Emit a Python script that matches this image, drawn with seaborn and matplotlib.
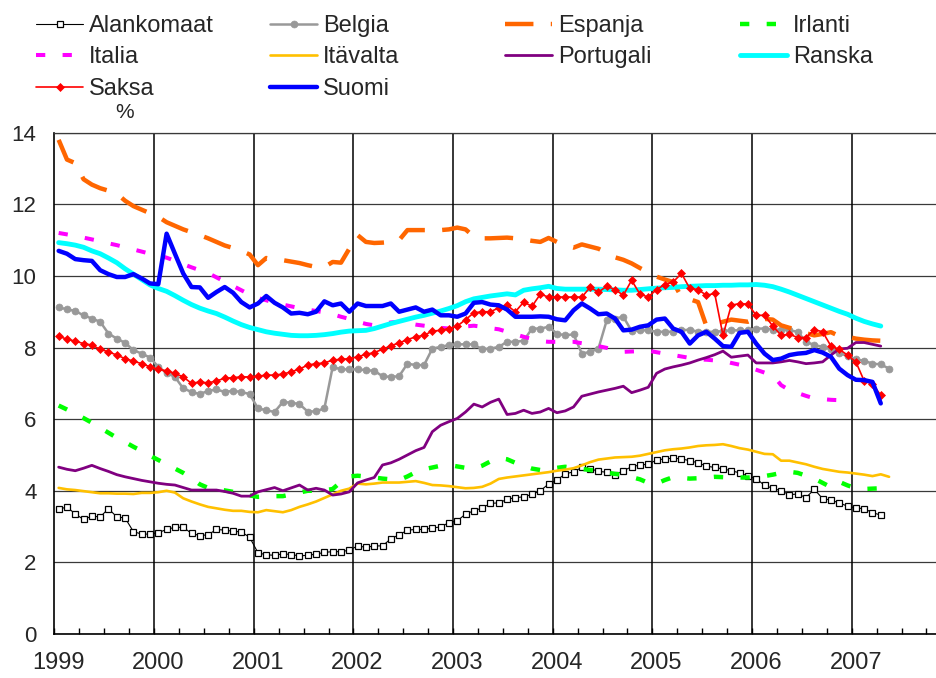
import numpy as np
import pandas as pd
import matplotlib
matplotlib.use("Agg")
import matplotlib.pyplot as plt
import seaborn as sns

# ---------------- data (monthly, Jan 1999 onwards) ----------------
start_year = 1999
year_labels = ["1999", "2000", "2001", "2002", "2003", "2004", "2005", "2006", "2007"]
y_ticks = [0, 2, 4, 6, 8, 10, 12, 14]
unit_label = "%"

alankomaat = [3.48, 3.55, 3.35, 3.20, 3.29, 3.27, 3.50, 3.27, 3.24, 2.86,
              2.79, 2.79, 2.83, 2.92, 2.98, 2.98, 2.81, 2.75, 2.77, 2.92,
              2.90, 2.87, 2.85, 2.70, 2.27, 2.21, 2.20, 2.24, 2.22, 2.18,
              2.20, 2.23, 2.28, 2.30, 2.30, 2.34, 2.46, 2.42, 2.46, 2.46,
              2.66, 2.77, 2.90, 2.92, 2.92, 2.96, 2.99, 3.11, 3.16, 3.35,
              3.44, 3.52, 3.65, 3.66, 3.76, 3.81, 3.83, 3.90, 4.00, 4.19,
              4.30, 4.47, 4.53, 4.65, 4.62, 4.54, 4.52, 4.45, 4.56, 4.67,
              4.72, 4.74, 4.86, 4.89, 4.91, 4.89, 4.84, 4.78, 4.69, 4.65,
              4.61, 4.56, 4.50, 4.41, 4.34, 4.15, 4.07, 4.00, 3.89, 3.91,
              3.81, 4.04, 3.78, 3.74, 3.66, 3.57, 3.52, 3.50, 3.39, 3.32]

belgia = [9.12, 9.07, 9.02, 8.90, 8.81, 8.72, 8.39, 8.25, 8.13, 7.93,
          7.83, 7.72, 7.46, 7.29, 7.18, 6.86, 6.76, 6.70, 6.79, 6.83,
          6.76, 6.79, 6.76, 6.70, 6.30, 6.25, 6.20, 6.48, 6.46, 6.42,
          6.21, 6.22, 6.30, 7.46, 7.39, 7.39, 7.39, 7.37, 7.35, 7.20,
          7.18, 7.20, 7.55, 7.51, 7.51, 7.97, 8.02, 8.07, 8.09, 8.09,
          8.09, 7.95, 7.97, 8.02, 8.16, 8.16, 8.19, 8.53, 8.53, 8.58,
          8.39, 8.34, 8.37, 7.83, 7.88, 7.97, 8.76, 8.81, 8.86, 8.46,
          8.48, 8.48, 8.44, 8.44, 8.44, 8.48, 8.50, 8.44, 8.44, 8.44,
          8.46, 8.48, 8.48, 8.48, 8.53, 8.53, 8.50, 8.50, 8.48, 8.44,
          8.16, 8.07, 8.02, 7.95, 7.85, 7.76, 7.67, 7.63, 7.55, 7.53,
          7.41]

espanja = [13.80, 13.25, 13.15, 12.70, 12.55, 12.45, 12.38, 12.30, 12.10, 11.95,
           11.85, 11.75, 11.65, 11.50, 11.40, 11.30, 11.22, 11.14, 11.05, 10.95,
           10.85, 10.78, 10.70, 10.60, 10.30, 10.50, 10.45, 10.44, 10.40, 10.36,
           10.30, 10.25, 10.25, 10.39, 10.37, 10.76, 11.14, 10.95, 10.92, 10.93,
           10.95, 11.00, 11.28, 11.28, 11.28, 11.28, 11.28, 11.30, 11.35, 11.30,
           11.10, 11.05, 11.05, 11.06, 11.07, 11.05, 11.02, 10.98, 10.95, 11.06,
           10.95, 10.85, 10.79, 10.88, 10.82, 10.76, 10.65, 10.52, 10.45, 10.35,
           10.22, 10.10, 9.98, 9.90, 9.83, 9.41, 9.35, 9.27, 8.60, 8.65,
           8.72, 8.78, 8.75, 8.72, 8.81, 8.80, 8.78, 8.62, 8.55, 8.50,
           8.40, 8.34, 8.38, 8.43, 8.32, 8.30, 8.25, 8.22, 8.20, 8.19]

irlanti = [6.38, 6.27, 6.15, 6.03, 5.90, 5.76, 5.62, 5.48, 5.36, 5.23,
           5.11, 4.98, 4.86, 4.74, 4.62, 4.50, 4.35, 4.18, 4.08, 4.04,
           4.01, 3.97, 3.92, 3.87, 3.83, 3.84, 3.85, 3.85, 3.90, 3.95,
           4.00, 4.00, 4.01, 4.05, 4.25, 4.40, 4.42, 4.40, 4.37, 4.34,
           4.32, 4.30, 4.40, 4.52, 4.60, 4.65, 4.70, 4.72, 4.68, 4.64,
           4.62, 4.70, 4.82, 4.92, 4.88, 4.78, 4.70, 4.62, 4.58, 4.60,
           4.64, 4.67, 4.64, 4.61, 4.58, 4.55, 4.51, 4.47, 4.45, 4.38,
           4.32, 4.22, 4.20, 4.30, 4.38, 4.36, 4.34, 4.35, 4.37, 4.39,
           4.38, 4.37, 4.37, 4.37, 4.39, 4.41, 4.45, 4.50, 4.53, 4.50,
           4.42, 4.34, 4.22, 4.10, 4.25, 4.15, 4.07, 4.05, 4.06, 4.07,
           4.08]

italia = [11.20, 11.16, 11.12, 11.07, 11.02, 10.97, 10.91, 10.86, 10.80, 10.74,
          10.68, 10.62, 10.57, 10.51, 10.42, 10.33, 10.24, 10.16, 10.08, 9.96,
          9.84, 9.72, 9.60, 9.48, 9.38, 9.32, 9.25, 9.20, 9.15, 9.10,
          9.06, 9.02, 8.98, 8.93, 8.86, 8.80, 8.72, 8.66, 8.62, 8.66,
          8.70, 8.72, 8.68, 8.64, 8.61, 8.58, 8.55, 8.53, 8.56, 8.59,
          8.61, 8.58, 8.54, 8.51, 8.44, 8.37, 8.30, 8.24, 8.18, 8.16,
          8.16, 8.16, 8.16, 8.12, 8.08, 8.04, 7.99, 7.93, 7.88, 7.89,
          7.90, 7.91, 7.87, 7.83, 7.79, 7.75, 7.71, 7.67, 7.66, 7.64,
          7.63, 7.57, 7.52, 7.46, 7.38, 7.30, 7.23, 6.95, 6.81, 6.73,
          6.65, 6.58, 6.56, 6.54, 6.53, 6.52]

itavalta = [4.08, 4.04, 4.02, 3.99, 3.96, 3.93, 3.93, 3.92, 3.92, 3.91,
            3.94, 3.94, 3.96, 4.00, 3.95, 3.79, 3.70, 3.62, 3.55, 3.51,
            3.47, 3.44, 3.44, 3.41, 3.40, 3.46, 3.43, 3.40, 3.46, 3.55,
            3.62, 3.70, 3.80, 3.90, 4.00, 4.06, 4.20, 4.18, 4.20, 4.23,
            4.23, 4.23, 4.25, 4.27, 4.22, 4.16, 4.15, 4.13, 4.10, 4.07,
            4.08, 4.11, 4.20, 4.33, 4.37, 4.40, 4.43, 4.46, 4.49, 4.52,
            4.56, 4.59, 4.63, 4.71, 4.80, 4.87, 4.90, 4.93, 4.94, 4.95,
            4.98, 5.03, 5.08, 5.13, 5.16, 5.18, 5.21, 5.25, 5.27, 5.28,
            5.30, 5.25, 5.19, 5.15, 5.09, 5.03, 5.02, 4.84, 4.84, 4.79,
            4.74, 4.67, 4.61, 4.57, 4.53, 4.51, 4.48, 4.45, 4.41, 4.46,
            4.39]

portugali = [4.66, 4.60, 4.56, 4.63, 4.71, 4.62, 4.54, 4.45, 4.39, 4.34,
             4.29, 4.25, 4.21, 4.18, 4.16, 4.09, 4.02, 4.02, 4.02, 4.02,
             3.98, 3.93, 3.85, 3.85, 3.97, 4.03, 4.09, 4.00, 4.08, 4.16,
             4.02, 4.07, 4.02, 3.88, 3.91, 3.97, 4.22, 4.30, 4.37, 4.72,
             4.78, 4.88, 5.00, 5.12, 5.21, 5.65, 5.83, 5.93, 6.02, 6.20,
             6.42, 6.34, 6.47, 6.56, 6.13, 6.16, 6.25, 6.16, 6.20, 6.30,
             6.18, 6.23, 6.34, 6.64, 6.70, 6.76, 6.81, 6.86, 6.92, 6.74,
             6.81, 6.89, 7.28, 7.40, 7.46, 7.51, 7.57, 7.65, 7.72, 7.80,
             7.90, 7.73, 7.76, 7.79, 7.57, 7.57, 7.57, 7.60, 7.64, 7.60,
             7.55, 7.57, 7.60, 7.79, 7.96, 7.98, 8.14, 8.14, 8.09, 8.04]

ranska = [10.93, 10.90, 10.86, 10.80, 10.70, 10.62, 10.50, 10.37, 10.20, 10.05,
          9.90, 9.75, 9.65, 9.57, 9.45, 9.32, 9.20, 9.10, 9.02, 8.95,
          8.85, 8.74, 8.64, 8.56, 8.50, 8.44, 8.40, 8.37, 8.34, 8.33,
          8.33, 8.34, 8.36, 8.39, 8.43, 8.46, 8.47, 8.48, 8.53, 8.60,
          8.67, 8.73, 8.79, 8.85, 8.90, 8.96, 9.02, 9.09, 9.17, 9.28,
          9.36, 9.40, 9.44, 9.47, 9.50, 9.47, 9.60, 9.64, 9.67, 9.71,
          9.65, 9.63, 9.63, 9.63, 9.63, 9.63, 9.62, 9.61, 9.60, 9.60,
          9.62, 9.64, 9.66, 9.67, 9.68, 9.70, 9.71, 9.72, 9.73, 9.73,
          9.74, 9.74, 9.75, 9.75, 9.76, 9.74, 9.70, 9.63, 9.55, 9.46,
          9.37, 9.28, 9.19, 9.10, 9.01, 8.93, 8.82, 8.73, 8.66, 8.60]

saksa = [8.32, 8.23, 8.18, 8.11, 8.07, 7.95, 7.88, 7.79, 7.69, 7.62,
         7.55, 7.46, 7.39, 7.35, 7.28, 7.18, 7.00, 7.04, 7.01, 7.07,
         7.14, 7.16, 7.18, 7.18, 7.20, 7.23, 7.23, 7.26, 7.32, 7.40,
         7.51, 7.55, 7.57, 7.65, 7.67, 7.69, 7.74, 7.81, 7.86, 7.95,
         8.05, 8.13, 8.22, 8.30, 8.34, 8.46, 8.48, 8.53, 8.60, 8.78,
         8.97, 9.00, 9.00, 9.11, 9.18, 9.00, 9.27, 9.15, 9.49, 9.41,
         9.41, 9.41, 9.41, 9.41, 9.68, 9.55, 9.71, 9.62, 9.46, 9.88,
         9.49, 9.41, 9.62, 9.76, 9.83, 10.07, 9.65, 9.62, 9.46, 9.51,
         8.34, 9.18, 9.23, 9.21, 8.90, 8.90, 8.60, 8.34, 8.37, 8.28,
         8.28, 8.50, 8.44, 8.04, 7.95, 7.79, 7.60, 7.07, 6.98, 6.67]

suomi = [10.70, 10.62, 10.47, 10.44, 10.42, 10.16, 10.05, 9.97, 9.97, 10.05,
         9.93, 9.79, 9.77, 11.18, 10.62, 10.07, 9.69, 9.68, 9.39, 9.55,
         9.69, 9.53, 9.27, 9.12, 9.23, 9.44, 9.25, 9.12, 8.95, 8.97,
         8.93, 9.00, 9.29, 9.18, 9.23, 9.00, 9.23, 9.16, 9.16, 9.16,
         9.23, 9.00, 9.06, 9.12, 9.00, 9.06, 8.90, 8.90, 8.86, 8.95,
         9.25, 9.27, 9.20, 9.18, 9.06, 8.86, 8.86, 8.86, 8.87, 8.86,
         8.79, 8.76, 9.04, 9.23, 9.09, 8.93, 8.95, 8.81, 8.48, 8.50,
         8.58, 8.62, 8.78, 8.81, 8.53, 8.44, 8.11, 8.34, 8.44, 8.25,
         8.04, 8.02, 8.41, 8.44, 8.11, 7.83, 7.65, 7.69, 7.79, 7.83,
         7.85, 7.93, 7.86, 7.74, 7.41, 7.23, 7.10, 7.09, 7.04, 6.44]

series = {
    "Alankomaat": alankomaat, "Belgia": belgia, "Espanja": espanja,
    "Irlanti": irlanti, "Italia": italia, "Itävalta": itavalta,
    "Portugali": portugali, "Ranska": ranska, "Saksa": saksa, "Suomi": suomi,
}

# ---------------- styles ----------------
styles = {
    "Alankomaat": dict(color="black", lw=0.8, marker="s", markersize=3.8,
                       markerfacecolor="white", markeredgecolor="black",
                       markeredgewidth=0.9),
    "Belgia": dict(color="#999999", lw=1.8, marker="o", markersize=5.0,
                   markerfacecolor="#999999", markeredgecolor="#999999",
                   markeredgewidth=0.5),
    "Espanja": dict(color="#FF6600", lw=3.2, linestyle=(0, (6.4, 3.9)),
                    dash_capstyle="butt"),
    "Irlanti": dict(color="#00FF00", lw=3.2, linestyle=(0, (2.1, 3.9)),
                    dash_capstyle="butt"),
    "Italia": dict(color="#FF00FF", lw=2.9, linestyle=(0, (2.3, 4.3)),
                   dash_capstyle="butt"),
    "Itävalta": dict(color="#FFC000", lw=1.9),
    "Portugali": dict(color="#800080", lw=2.0),
    "Ranska": dict(color="#00FFFF", lw=3.5),
    "Saksa": dict(color="#FF0000", lw=1.2, marker="D", markersize=3.6,
                  markerfacecolor="#FF0000", markeredgecolor="#FF0000",
                  markeredgewidth=0.5),
    "Suomi": dict(color="#0000FF", lw=3.2),
}

sns.set_style("white")
plt.rcParams["font.family"] = ["Liberation Sans", "DejaVu Sans"]

W, H = 937, 678
fig = plt.figure(figsize=(W / 100, H / 100), dpi=100)
x0, x1 = 54.5, 937.0
yb, yt = 634.0, 132.7
ax = fig.add_axes([x0 / W, 1 - yb / H, (x1 - x0) / W, (yb - yt) / H])

px_per_year = (851.7 - 54.5) / 8.0
ax.set_xlim(start_year, start_year + (x1 - x0) / px_per_year)
ax.set_ylim(0, 14)

for name, vals in series.items():
    t = start_year + (np.arange(len(vals)) + 0.5) / 12.0
    df = pd.DataFrame({"t": t, "v": vals})
    st = dict(styles[name])
    sns.lineplot(data=df, x="t", y="v", ax=ax, label=name, errorbar=None,
                 sort=False, legend=False, **st)

# grid
ax.set_yticks(y_ticks)
ax.yaxis.grid(True, color="#3a3a3a", lw=0.9)
ax.xaxis.grid(False)
for i in range(1, len(year_labels)):
    ax.axvline(start_year + i, color="black", lw=1.1, zorder=0.8)
ax.set_axisbelow(True)

# ticks
ax.set_xticks([start_year + i + 1 / 24 for i in range(len(year_labels))])
ax.set_xticklabels(year_labels)
ax.set_xticks([start_year + k / 4 for k in range(0, 36)], minor=True)
ax.tick_params(axis="x", which="major", length=0, pad=13, labelsize=17)
ax.tick_params(axis="x", which="minor", direction="in", length=4.3,
               width=1.0, color="black", bottom=True)
ax.tick_params(axis="y", which="major", length=0, pad=13, labelsize=16)
ax.set_xlabel("")
ax.set_ylabel("")

for s in ["left", "bottom"]:
    ax.spines[s].set_color("black")
    ax.spines[s].set_linewidth(1.2)
ax.spines["top"].set_color("#3a3a3a")
ax.spines["top"].set_linewidth(0.9)
ax.spines["right"].set_visible(False)

# legend in four columns
handles, labels = ax.get_legend_handles_labels()
hmap = dict(zip(labels, handles))
columns = [["Alankomaat", "Italia", "Saksa"],
           ["Belgia", "Itävalta", "Suomi"],
           ["Espanja", "Portugali"],
           ["Irlanti", "Ranska"]]
col_x = [36, 270, 505, 740]
for cx, col in zip(col_x, columns):
    leg = fig.legend([hmap[c] for c in col], col, loc="upper left",
                     bbox_to_anchor=(cx / W, 1 - 15 / H), frameon=False,
                     fontsize=17, borderpad=0, borderaxespad=0,
                     handlelength=2.0, handletextpad=0.25,
                     labelspacing=0.4)

fig.text(125 / W, 1 - 112 / H, unit_label, ha="center", va="center",
         fontsize=15)

fig.savefig("out.png", dpi=100)
